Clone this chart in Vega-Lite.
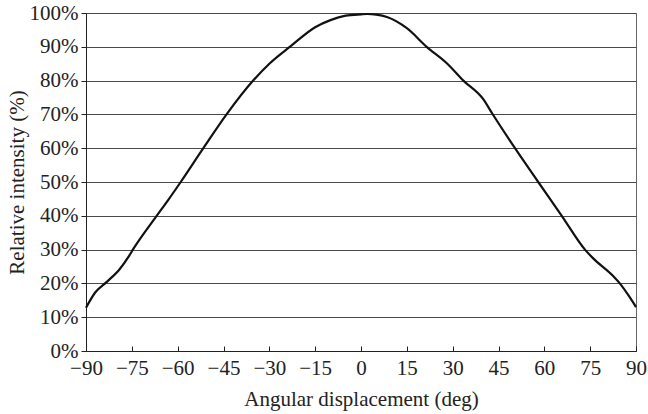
{
  "$schema": "https://vega.github.io/schema/vega-lite/v6.json",
  "width": 550,
  "height": 338,
  "autosize": {"type": "none"},
  "padding": {"left": 86, "top": 13, "right": 12, "bottom": 63},
  "background": "white",
  "config": {
    "font": "Liberation Serif",
    "view": {"stroke": "#666", "strokeWidth": 1},
    "axis": {
      "labelFont": "Liberation Serif",
      "titleFont": "Liberation Serif",
      "labelFontSize": 21,
      "titleFontSize": 21,
      "titleFontWeight": "normal",
      "labelColor": "#222",
      "titleColor": "#222",
      "domainColor": "#222",
      "tickColor": "#222",
      "gridColor": "#4a4a4a",
      "gridOpacity": 1,
      "gridWidth": 1
    }
  },
  "data": {
    "values": [
      {"deg": -90, "pct": 12.8},
      {"deg": -87, "pct": 17.3},
      {"deg": -83, "pct": 20.6},
      {"deg": -79, "pct": 24.2},
      {"deg": -76, "pct": 28},
      {"deg": -74.5, "pct": 30.2},
      {"deg": -67, "pct": 39.8},
      {"deg": -63, "pct": 44.8},
      {"deg": -59, "pct": 50},
      {"deg": -51.6, "pct": 60},
      {"deg": -44, "pct": 70},
      {"deg": -35.3, "pct": 80},
      {"deg": -30, "pct": 85},
      {"deg": -23, "pct": 90.2},
      {"deg": -15, "pct": 95.8},
      {"deg": -10, "pct": 97.9},
      {"deg": -5, "pct": 99.2},
      {"deg": 0, "pct": 99.6},
      {"deg": 2, "pct": 99.7},
      {"deg": 5, "pct": 99.5},
      {"deg": 8.5, "pct": 98.8},
      {"deg": 15, "pct": 95.5},
      {"deg": 21.5, "pct": 90},
      {"deg": 28, "pct": 85.2},
      {"deg": 33.5, "pct": 80},
      {"deg": 40, "pct": 74.5},
      {"deg": 43, "pct": 70.2},
      {"deg": 50.4, "pct": 60},
      {"deg": 58, "pct": 50},
      {"deg": 65.7, "pct": 40},
      {"deg": 73.3, "pct": 30},
      {"deg": 76, "pct": 27.4},
      {"deg": 82.6, "pct": 22.1},
      {"deg": 84.7, "pct": 20},
      {"deg": 87.5, "pct": 16.5},
      {"deg": 90, "pct": 13}
    ]
  },
  "mark": {"type": "line", "color": "#111", "strokeWidth": 2.2, "interpolate": "monotone"},
  "encoding": {
    "x": {
      "field": "deg",
      "type": "quantitative",
      "scale": {"domain": [-90, 90], "nice": false},
      "axis": {
        "values": [-90, -75, -60, -45, -30, -15, 0, 15, 30, 45, 60, 75, 90],
        "grid": false,
        "tickSize": -5,
        "labelPadding": 11,
        "title": "Angular displacement (deg)",
        "titlePadding": 10,
        "labelFlush": false
      }
    },
    "y": {
      "field": "pct",
      "type": "quantitative",
      "scale": {"domain": [0, 100], "nice": false},
      "axis": {
        "values": [0, 10, 20, 30, 40, 50, 60, 70, 80, 90, 100],
        "labelExpr": "datum.value + '%'",
        "grid": true,
        "tickSize": 5,
        "labelPadding": 3,
        "title": "Relative intensity (%)",
        "titlePadding": 2
      }
    }
  }
}
